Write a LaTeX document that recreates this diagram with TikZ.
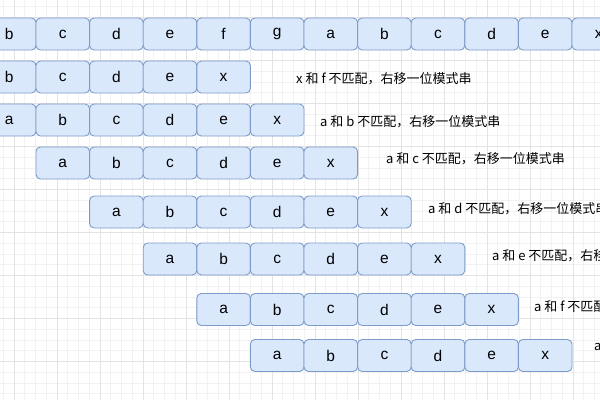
\documentclass[tikz,border=0pt]{standalone}
\usepackage{fontspec}
\setmainfont{Liberation Sans}
\newfontfamily\cjk{Noto Sans CJK SC}
\definecolor{cellfill}{HTML}{DAE8FC}
\definecolor{celldraw}{HTML}{7D9CCB}
\definecolor{gridminor}{HTML}{F2F2F2}
\definecolor{gridmajor}{HTML}{E3E3E3}
\tikzset{
	cell/.style={draw=celldraw, fill=cellfill, rounded corners=4.5pt, line width=0.9pt,
		minimum width=53.6pt, minimum height=32pt, inner sep=0pt, font=\fontsize{15.5}{16}\selectfont},
	note/.style={anchor=west, inner sep=0pt, font=\fontsize{13}{13}\selectfont\cjk}
}
\begin{document}
\begin{tikzpicture}[x=1pt, y=-1pt]
	\useasboundingbox (0,0) rectangle (600,400);
	\clip (0,0) rectangle (600,400);
	\fill[white] (0,0) rectangle (600,400);
	
	% grid
	\foreach \k in {0,...,56}
	\draw[gridminor, line width=0.6pt] (3.25+10.75*\k,0) -- ++(0,400);
	\foreach \k in {0,...,38}
	\draw[gridminor, line width=0.6pt] (0,6.75+10.75*\k) -- ++(600,0);
	\foreach \k in {0,...,14}
	\draw[gridmajor, line width=0.8pt] (14+43*\k,0) -- ++(0,400);
	\foreach \k in {0,...,9}
	\draw[gridmajor, line width=0.8pt] (0,17.5+43*\k) -- ++(600,0);
	
	% main string
	\foreach \ch [count=\i from 0] in {b,c,d,e,f,g,a,b,c,d,e,x}
	\node[cell] (s\i) at (9.2+53.6*\i,34) {\ch};
	
	% first try, pattern starts one cell to the left
	\foreach \ch [count=\i from 0] in {b,c,d,e,x}
	\node[cell] (p1c\i) at (9.2+53.6*\i,77) {\ch};
	
	% shifted pattern
	\foreach \row/\y/\start in {2/120/0, 3/163/1, 4/212/2, 5/259/3, 6/309.5/4, 7/355.5/5}
	\foreach \ch [count=\i from 0] in {a,b,c,d,e,x}
	\node[cell] (p\row c\i) at (9.2+53.6*\start+53.6*\i,\y) {\ch};
	
	% notes
	\foreach \row/\x/\y/\txt in {1/296/79/x 和 f 不匹配，右移一位模式串,
		2/320/122/a 和 b 不匹配，右移一位模式串,
		3/386/159/a 和 c 不匹配，右移一位模式串,
		4/428/209/a 和 d 不匹配，右移一位模式串,
		5/492/256/a 和 e 不匹配，右移一位模式串,
		6/534/307/a 和 f 不匹配，右移一位模式串,
		7/594/347/a 和 g 不匹配，右移一位模式串}
	\node[note] (n\row) at (\x,\y) {\txt};
\end{tikzpicture}
\end{document}
